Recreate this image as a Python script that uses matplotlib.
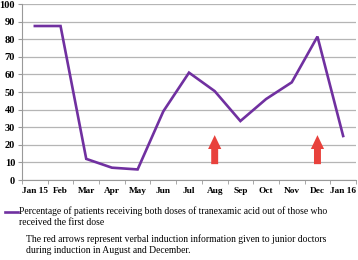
import numpy as np
import matplotlib
matplotlib.use("Agg")
import matplotlib.pyplot as plt
from matplotlib.lines import Line2D

# --- data ---
months = ["Jan 15", "Feb", "Mar", "Apr", "May", "Jun", "Jul",
          "Aug", "Sep", "Oct", "Nov", "Dec", "Jan 16"]
pct_both_doses = [87.5, 87.5, 12, 7, 6, 39, 61, 50.5, 33.5, 46, 55.5, 81.5, 25]
arrow_months = ["Aug", "Dec"]
arrow_from, arrow_to = 9, 25.5
yticks = list(range(0, 101, 10))

legend_text = ("Percentage of patients receiving both doses of tranexamic acid out of those who\n"
               "received the first dose")
note_text = ("The red arrows represent verbal induction information given to junior doctors\n"
             "during induction in August and December.")

plt.rcParams["font.family"] = ["Liberation Serif", "DejaVu Serif"]

fig = plt.figure(figsize=(3.58, 2.60), dpi=100)
ax = fig.add_axes([22 / 358, 1 - 180 / 260, 334 / 358, 176 / 260])

x = np.arange(len(months))
purple = "#7030A0"
ax.plot(x, pct_both_doses, color=purple, lw=1.9, solid_joinstyle="miter", zorder=3)

# red arrows
for m in arrow_months:
    i = months.index(m)
    ax.annotate("", xy=(i, arrow_to), xytext=(i, arrow_from),
                arrowprops=dict(arrowstyle="simple,head_length=1.0,head_width=0.95,tail_width=0.5",
                                color="#E8413C", lw=0, shrinkA=0, shrinkB=0), zorder=2)

ax.set_xlim(-0.5, len(months) - 0.5)
ax.set_ylim(0, 100)
ax.set_yticks(yticks)
ax.set_xticks(x)
ax.set_xticklabels(months)
ax.set_xticks(np.arange(-0.5, len(months), 1), minor=True)
ax.tick_params(axis="x", which="major", length=0, labelsize=6.7, pad=5)
ax.tick_params(axis="x", which="minor", length=3, color="#999999")
ax.tick_params(axis="y", length=3, color="#999999", labelsize=7.5, pad=2)
for lab in ax.get_xticklabels() + ax.get_yticklabels():
    lab.set_fontweight("bold")

ax.grid(axis="y", color="#b5b5b5", lw=0.9)
ax.set_axisbelow(True)
for s in ["top", "right"]:
    ax.spines[s].set_visible(False)
for s in ["left", "bottom"]:
    ax.spines[s].set_color("#999999")

# legend and note
fig.add_artist(Line2D([5 / 358, 18 / 358], [1 - 212 / 260, 1 - 212 / 260],
                      color=purple, lw=1.9, transform=fig.transFigure))
fig.text(19 / 358, 1 - 206 / 260, legend_text, fontsize=6.9, va="top", ha="left",
         linespacing=1.35)
fig.text(26 / 358, 1 - 234 / 260, note_text, fontsize=6.9, va="top", ha="left",
         linespacing=1.35)

fig.savefig("out.png", dpi=100)
